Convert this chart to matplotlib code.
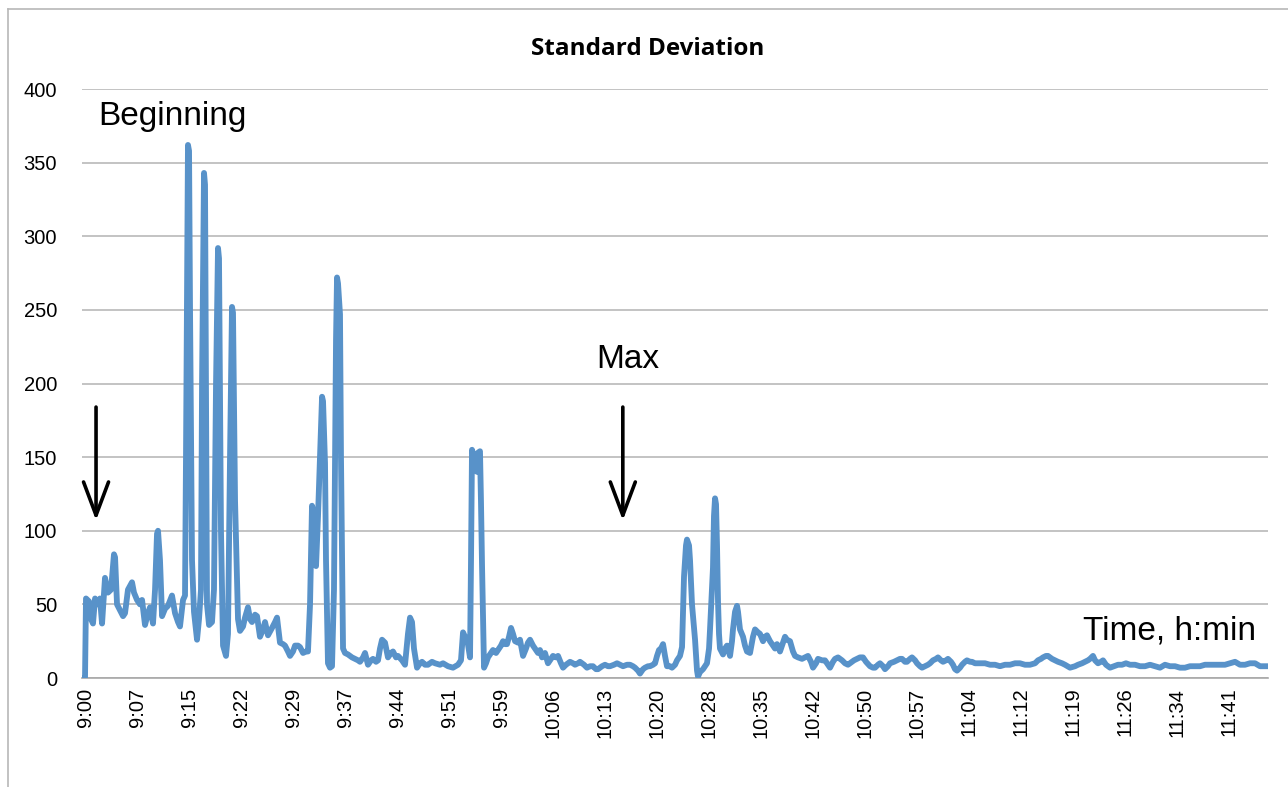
import matplotlib.pyplot as plt
from matplotlib.lines import Line2D

# time in minutes after 9:00, standard deviation
times_min = [
    -0.42, 0.0, 0.14, 0.57, 0.85, 1.13, 1.42, 1.84, 2.12, 2.41, 2.83, 3.25, 3.68, 4.10, 4.25,
    4.53, 4.95, 5.38, 5.66, 6.08, 6.65, 6.93, 7.36, 7.78, 8.07, 8.49, 8.91, 9.20, 9.62, 9.91,
    10.19, 10.33, 10.61, 10.90, 11.32, 11.74, 12.31, 12.74, 13.16, 13.44, 13.87, 14.15, 14.29,
    14.57, 14.72, 14.86, 15.14, 15.42, 15.85, 16.13, 16.41, 16.56, 16.84, 16.98, 17.12, 17.26,
    17.55, 17.97, 18.25, 18.54, 18.82, 18.96, 19.24, 19.53, 19.95, 20.23, 20.52, 20.80, 20.94,
    21.23, 21.65, 21.93, 22.36, 22.64, 23.06, 23.35, 23.63, 24.06, 24.34, 24.76, 25.19, 25.47,
    25.89, 26.46, 26.89, 27.17, 27.59, 28.02, 28.30, 28.72, 29.01, 29.43, 29.72, 30.14, 30.42,
    30.85, 31.27, 31.55, 31.84, 32.12, 32.40, 32.69, 32.97, 33.25, 33.54, 33.68, 33.96, 34.10,
    34.38, 34.67, 34.95, 35.23, 35.52, 35.66, 35.80, 36.08, 36.22, 36.51, 36.79, 37.21, 37.78,
    38.21, 38.63, 38.91, 39.34, 39.62, 40.04, 40.47, 40.75, 41.18, 41.46, 41.74, 42.03, 42.45,
    42.87, 43.30, 43.58, 44.01, 44.29, 44.86, 45.28, 45.70, 45.99, 46.27, 46.55, 46.98, 47.40,
    47.69, 48.11, 48.53, 49.10, 49.53, 50.23, 50.66, 51.36, 52.07, 52.78, 53.20, 53.49, 53.77,
    54.05, 54.48, 54.62, 54.76, 55.04, 55.19, 55.47, 55.61, 55.89, 56.03, 56.18, 56.46, 56.74,
    57.02, 57.31, 57.73, 58.16, 58.44, 58.86, 59.15, 59.43, 59.71, 60.00, 60.28, 60.56, 60.85,
    61.27, 61.55, 61.98, 62.40, 62.68, 62.97, 63.39, 63.68, 64.10, 64.38, 64.67, 65.09, 65.51,
    65.94, 66.22, 66.65, 66.93, 67.35, 67.64, 68.06, 68.63, 69.05, 69.34, 69.76, 70.04, 70.61,
    71.03, 71.46, 71.88, 72.31, 72.59, 73.16, 73.58, 74.00, 74.29, 74.85, 75.28, 75.70, 76.13,
    76.69, 77.12, 77.54, 77.83, 78.25, 78.53, 78.96, 79.24, 79.66, 79.95, 80.37, 80.66, 80.94,
    81.22, 81.50, 81.79, 82.07, 82.35, 82.78, 83.06, 83.49, 83.77, 84.19, 84.48, 84.76, 85.04,
    85.18, 85.47, 85.61, 85.89, 86.03, 86.32, 86.60, 86.74, 87.02, 87.45, 87.73, 88.01, 88.30,
    88.44, 88.72, 88.86, 89.00, 89.15, 89.29, 89.43, 89.57, 89.71, 89.85, 90.28, 90.56, 90.84,
    91.27, 91.55, 91.69, 91.98, 92.26, 92.40, 92.68, 93.11, 93.39, 93.67, 94.10, 94.52, 94.81,
    95.23, 95.51, 95.94, 96.22, 96.50, 96.93, 97.21, 97.64, 97.92, 98.34, 98.63, 99.05, 99.33,
    99.76, 100.18, 100.47, 100.89, 101.46, 101.88, 102.30, 102.73, 103.01, 103.44, 103.72,
    104.29, 104.71, 105.13, 105.42, 105.84, 106.13, 106.55, 107.12, 107.54, 107.96, 108.25,
    108.81, 109.24, 109.66, 110.09, 110.51, 111.08, 111.50, 111.79, 112.21, 112.49, 112.92,
    113.20, 113.62, 113.91, 114.47, 114.90, 115.32, 115.61, 116.03, 116.31, 116.74, 117.02,
    117.45, 117.73, 118.15, 118.44, 118.86, 119.28, 119.57, 119.99, 120.42, 120.70, 121.12,
    121.41, 121.83, 122.11, 122.54, 122.82, 123.11, 123.39, 123.81, 124.10, 124.52, 124.80,
    125.23, 125.51, 125.94, 126.64, 127.35, 128.06, 128.77, 129.47, 130.18, 130.89, 131.60,
    132.30, 133.01, 133.72, 134.43, 134.85, 135.27, 135.56, 135.98, 136.26, 136.83, 137.26,
    137.68, 138.25, 138.67, 139.38, 140.09, 140.51, 141.08, 141.50, 141.92, 142.21, 142.63,
    142.92, 143.34, 143.76, 144.05, 144.47, 145.04, 145.60, 146.17, 146.74, 147.30, 147.87,
    148.58, 149.28, 149.99, 150.70, 151.41, 152.11, 152.82, 153.53, 154.24, 154.94, 155.65,
    156.36, 157.07, 157.77, 158.48, 159.19, 159.90, 160.60, 161.31, 162.02, 162.73, 163.43,
    164.14, 164.85, 165.56, 166.26, 167.11,
]
std_values = [
    0, 0, 54, 52, 40, 37, 54, 50, 54, 37, 68, 58, 60, 84, 82,
    50, 46, 42, 44, 60, 65, 58, 53, 50, 53, 36, 44, 48, 37, 60,
    98, 100, 80, 42, 47, 49, 56, 44, 38, 35, 53, 56, 150,
    362, 358, 250, 80, 45, 26, 40, 60, 200, 343, 335, 200, 50,
    36, 38, 60, 200, 292, 285, 100, 22, 15, 30, 150, 252, 248,
    120, 40, 32, 35, 41, 48, 40, 38, 43, 42, 28, 33, 38,
    29, 34, 38, 41, 24, 23, 22, 18, 15, 18, 22, 22, 21,
    17, 18, 18, 50, 117, 112, 76, 110, 150, 191, 188, 146, 80,
    10, 7, 8, 60, 230, 272, 268, 247, 150, 20, 17, 16, 14,
    13, 12, 11, 14, 17, 9, 12, 13, 11, 12, 20, 26, 24,
    14, 17, 18, 14, 15, 12, 9, 30, 41, 38, 20, 7, 10,
    11, 9, 9, 11, 10, 9, 10, 8, 7, 9, 12, 31, 28,
    27, 14, 80, 155, 150, 144, 140, 153, 154, 120, 76, 7, 10,
    14, 16, 19, 17, 19, 22, 25, 23, 23, 28, 34, 30, 25,
    24, 26, 15, 20, 24, 26, 22, 20, 17, 19, 14, 17, 10,
    13, 15, 14, 15, 10, 7, 9, 11, 10, 9, 10, 11, 9,
    7, 8, 8, 6, 6, 8, 9, 8, 8, 9, 10, 9, 8,
    9, 9, 8, 7, 5, 3, 6, 7, 8, 8, 9, 10, 15,
    19, 20, 23, 15, 8, 8, 7, 9, 12, 15, 21, 69, 90,
    94, 90, 80, 50, 42, 26, 5, 1, 4, 6, 8, 10, 20,
    33, 61, 75, 110, 122, 118, 90, 52, 30, 20, 16, 20, 22,
    15, 25, 33, 45, 49, 45, 33, 28, 22, 18, 17, 28, 33,
    31, 30, 25, 28, 29, 25, 23, 20, 23, 18, 22, 28, 26,
    25, 18, 15, 14, 13, 14, 15, 11, 7, 10, 13,
    12, 12, 9, 7, 11, 13, 14, 12, 10, 9, 10,
    12, 13, 14, 14, 11, 8, 7, 7, 9, 10, 8,
    6, 8, 10, 11, 12, 13, 13, 11, 11, 13, 14,
    12, 10, 8, 7, 8, 9, 10, 12, 13, 14, 12,
    11, 12, 13, 11, 9, 6, 5, 7, 9, 11, 12,
    11, 11, 10, 10, 10, 9, 9, 8, 9, 9, 10,
    10, 9, 9, 10, 12, 13, 14, 15, 15, 13, 12,
    11, 10, 9, 7, 8, 9, 10, 11, 12, 13, 15,
    12, 10, 11, 12, 9, 7, 8, 9, 9, 10, 9,
    9, 8, 8, 9, 8, 7, 9, 8, 8, 7, 7,
    8, 8, 8, 9, 9, 9, 9, 9, 10, 11, 9,
    9, 10, 10, 8, 8,
]

tick_labels = ["9:00", "9:07", "9:15", "9:22", "9:29", "9:37", "9:44", "9:51", "9:59",
               "10:06", "10:13", "10:20", "10:28", "10:35", "10:42", "10:50", "10:57",
               "11:04", "11:12", "11:19", "11:26", "11:34", "11:41"]
tick_step = 7.36  # minutes between two category labels

plt.rcParams['font.family'] = ['Liberation Sans', 'DejaVu Sans']

fig = plt.figure(figsize=(12.88, 7.87), dpi=100)
ax = fig.add_axes([0.0637, 0.1385, 0.9208, 0.7484])

# chart area border (only top and left are visible)
fig.add_artist(Line2D([8 / 1288, 8 / 1288], [0, 1 - 9 / 787], color='#b8b8b8', lw=1.2))
fig.add_artist(Line2D([8 / 1288, 1], [1 - 9 / 787, 1 - 9 / 787], color='#b8b8b8', lw=1.2))

ax.plot(times_min, std_values, color='#5892c9', lw=4.2, solid_joinstyle='round', zorder=3)

ax.set_xlim(-0.42, 167.4)
ax.set_ylim(0, 400)
ax.set_yticks(range(0, 401, 50))
ax.yaxis.grid(True, color='#b3b3b3', lw=1.1)
ax.set_axisbelow(True)

ax.set_xticks([i * tick_step for i in range(len(tick_labels))])
ax.set_xticklabels(tick_labels, rotation=90)
ax.tick_params(axis='both', length=0, labelsize=14.5)
ax.tick_params(axis='y', pad=18)
ax.tick_params(axis='x', pad=7)

for side in ['left', 'right', 'top']:
    ax.spines[side].set_visible(False)
ax.spines['bottom'].set_color('#a8a8a8')
ax.spines['bottom'].set_linewidth(1.2)

fig.text(0.503, 0.9375, 'Standard Deviation', ha='center', va='center',
         fontsize=17.5, fontweight='bold', family=['Open Sans', 'DejaVu Sans'])

# annotations
ax.text(1.85, 381, 'Beginning', fontsize=24, ha='left', va='center')
ax.text(72.4, 216, 'Max', fontsize=24, ha='left', va='center')
ax.text(141.2, 32, 'Time, h:min', fontsize=24, ha='left', va='center')

arrow_style = dict(arrowstyle='->,head_length=2.4,head_width=0.9', color='black', lw=2.6,
                   shrinkA=0, shrinkB=0)
ax.annotate('', xy=(1.56, 107), xytext=(1.56, 184), arrowprops=arrow_style)
ax.annotate('', xy=(76.1, 107), xytext=(76.1, 184), arrowprops=arrow_style)

plt.savefig('out.png', dpi=100)
